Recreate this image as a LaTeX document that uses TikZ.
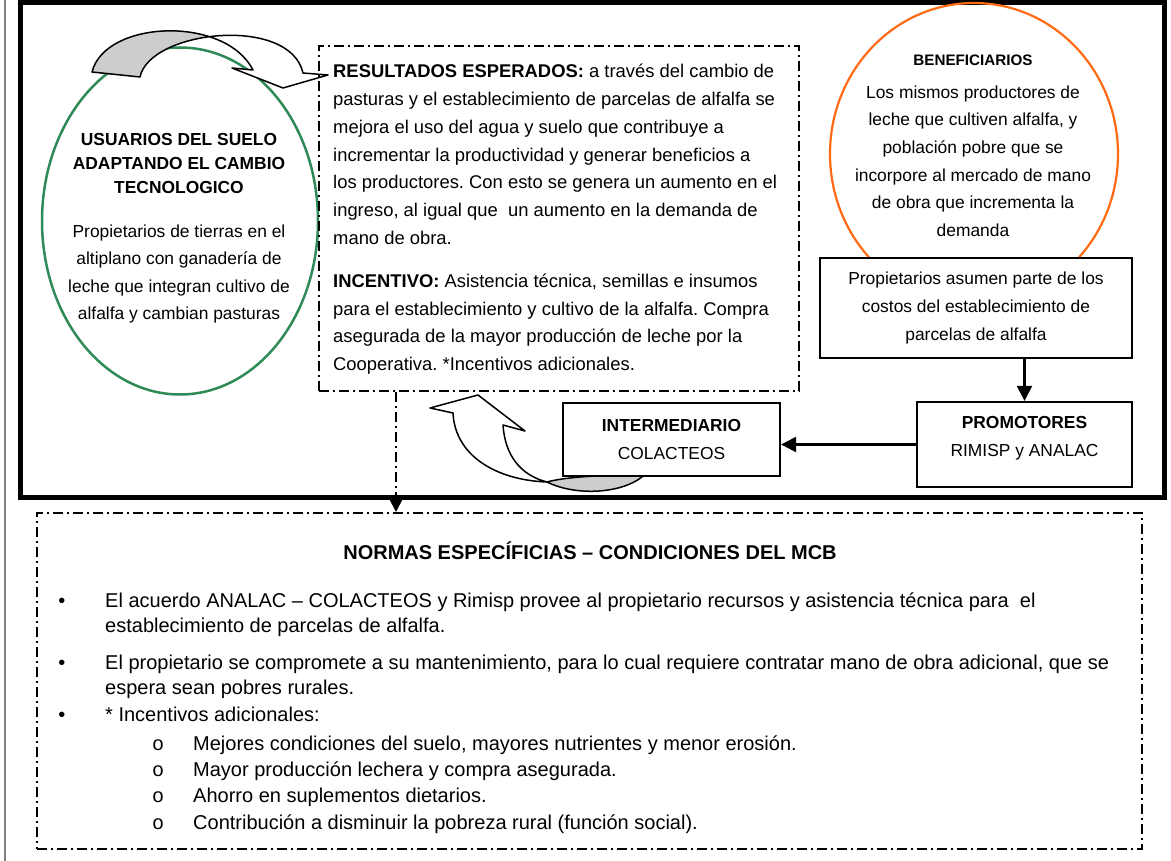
\documentclass[tikz,border=0pt]{standalone}
\usepackage{fontspec}
\setmainfont{Liberation Sans}
\setmonofont{Liberation Mono}
\usepackage{xcolor}
\usepackage{tikz}
\usetikzlibrary{arrows.meta, shapes.geometric}
\definecolor{verdeuso}{RGB}{46,139,87}
\definecolor{naranjaben}{RGB}{255,106,19}
\definecolor{grisflecha}{RGB}{205,205,205}
\tikzstyle{caja}=[draw, line width=2.2pt, fill=white, align=center, inner sep=0pt]
\tikzstyle{punteado}=[line width=1.8pt, dash pattern=on 10pt off 4pt on 2pt off 4pt]
\tikzstyle{flecha}=[line width=2.2pt, -{Triangle[length=15pt, width=15pt]}]
\tikzstyle{curva}=[line width=1.5pt, line join=round]
\tikzstyle{texto}=[inner sep=0pt, font=\fontsize{17.4}{27.6}\selectfont]
\tikzstyle{textores}=[inner sep=0pt, font=\fontsize{18.4}{27.8}\selectfont]
\tikzstyle{textonor}=[inner sep=0pt, font=\fontsize{20}{26}\selectfont]
\newcommand{\curvaizq}{(92,72) .. controls (105,20) and (225,15) .. (253,70) -- (232,68) -- (283,88) -- (328,75) -- (303,73) .. controls (290,15) and (150,30) .. (140,77) -- cycle}
\newcommand{\curvabajo}{(503,425) -- (525,431) -- (478,395) -- (430,408) -- (453,413) .. controls (455,455) and (495,480) .. (547,482) .. controls (520,475) and (505,455) .. (503,425) -- cycle}
\newcommand{\lunabajo}{(547,482) .. controls (575,496) and (620,494) .. (642,477) -- (640,475) .. controls (600,475) and (565,477) .. (547,482) -- cycle}
\frenchspacing

\begin{document}
\begin{tikzpicture}[x=1pt, y=-1pt]
    \useasboundingbox (0,0) rectangle (1171,861);
    \draw[gray, line width=1.5pt] (5,0) -- (5,861);
    \draw[line width=5pt] (20.5,2.5) rectangle (1164,497.5);

    \node[ellipse, draw=verdeuso, line width=2.5pt, minimum width=276pt, minimum height=347pt, inner sep=0pt] (usuarios) at (180,221) {};
    \node[ellipse, draw=naranjaben, line width=2.2pt, minimum width=288pt, minimum height=302pt, inner sep=0pt] (beneficiarios) at (974,154) {};

    \fill[white] \curvaizq;
    \begin{scope}
        \clip (0,0) rectangle (207,200);
        \fill[grisflecha] \curvaizq;
    \end{scope}
    \draw[curva] \curvaizq;

    \node[texto, align=center, font=\fontsize{17.4}{24}\selectfont\bfseries] (usuariostit) at (179,164) {USUARIOS DEL SUELO\\ADAPTANDO EL CAMBIO\\TECNOLOGICO};
    \node[texto, align=center] (usuariostxt) at (179,274) {Propietarios de tierras en el\\altiplano con ganadería de\\leche que integran cultivo de\\alfalfa y cambian pasturas};

    \node[punteado, draw, minimum width=480pt, minimum height=345pt, anchor=north west] (resultados) at (318,45) {};
    \node[textores, align=left, anchor=north west] (resultadostxt) at (333,64) {\textbf{RESULTADOS ESPERADOS:} a través del cambio de\\
        pasturas y el establecimiento de parcelas de alfalfa se\\
        mejora el uso del agua y suelo que contribuye a\\
        incrementar la productividad y generar beneficios a\\
        los productores. Con esto se genera un aumento en el\\
        ingreso, al igual que\ \ un aumento en la demanda de\\
        mano de obra.\\[15pt]
        \textbf{INCENTIVO:} Asistencia técnica, semillas e insumos\\
        para el establecimiento y cultivo de la alfalfa. Compra\\
        asegurada de la mayor producción de leche por la\\
        Cooperativa. *Incentivos adicionales.};

    \node[texto, font=\fontsize{15.2}{18}\selectfont\bfseries] (beneficiariostit) at (973,60) {BENEFICIARIOS};
    \begin{scope}
        \clip (820,40) rectangle (1130,239);
        \node[texto, align=center] (beneficiariostxt) at (973,161) {Los mismos productores de\\leche que cultiven alfalfa, y\\población pobre que se\\incorpore al mercado de mano\\de obra que incrementa la\\demanda};
    \end{scope}

    \node[caja, texto, minimum width=312pt, minimum height=100pt] (propietarios) at (976,308) {Propietarios asumen parte de los\\costos del establecimiento de\\parcelas de alfalfa};
    \node[caja, minimum width=215pt, minimum height=85pt] (promotores) at (1024.5,444.5) {};
    \node[texto, align=center] (promotorestxt) at (1024.5,438) {\textbf{PROMOTORES}\\RIMISP y ANALAC};

    \fill[white] \curvabajo;
    \draw[curva] \curvabajo;
    \filldraw[curva, fill=grisflecha] \lunabajo;
    \node[caja, texto, minimum width=217pt, minimum height=73pt] (intermediario) at (671.5,439.5) {\textbf{INTERMEDIARIO}\\COLACTEOS};

    \draw[flecha] (propietarios.south -| promotores.north) -- (promotores.north);
    \draw[flecha] (promotores.west) -- (promotores.west -| intermediario.east);

    \node[punteado, draw, minimum width=1105pt, minimum height=336pt, anchor=north west] (normas) at (36,512) {};
    \coordinate (bajada) at ([xshift=78pt]resultados.south west);
    \draw[punteado, -{Triangle[length=13pt, width=13pt]}] (bajada) -- (bajada |- normas.north);

    \node[textonor, font=\fontsize{20}{26}\selectfont\bfseries] (normastit) at (590,551) {NORMAS ESPECÍFICIAS – CONDICIONES DEL MCB};
    \foreach \y/\n in {607/1, 669/2, 721/3}
        \node[textonor, anchor=base] (punto\n) at (62,\y) {•};
    \node[textonor, anchor=base west] (linea1) at (105,607) {El acuerdo ANALAC – COLACTEOS y Rimisp provee al propietario recursos y asistencia técnica para\ \ el};
    \node[textonor, anchor=base west] (linea2) at (105,632) {establecimiento de parcelas de alfalfa.};
    \node[textonor, anchor=base west] (linea3) at (105,669) {El propietario se compromete a su mantenimiento, para lo cual requiere contratar mano de obra adicional, que se};
    \node[textonor, anchor=base west] (linea4) at (105,694) {espera sean pobres rurales.};
    \node[textonor, anchor=base west] (linea5) at (105,721) {* Incentivos adicionales:};
    \foreach \y/\t [count=\i] in {750/{Mejores condiciones del suelo, mayores nutrientes y menor erosión.}, 776/{Mayor producción lechera y compra asegurada.}, 802/{Ahorro en suplementos dietarios.}, 829/{Contribución a disminuir la pobreza rural (función social).}} {
        \node[textonor, anchor=base] (circulo\i) at (158,\y) {\ttfamily o};
        \node[textonor, anchor=base west] (sub\i) at (193,\y) {\t};
    }
\end{tikzpicture}
\end{document}
